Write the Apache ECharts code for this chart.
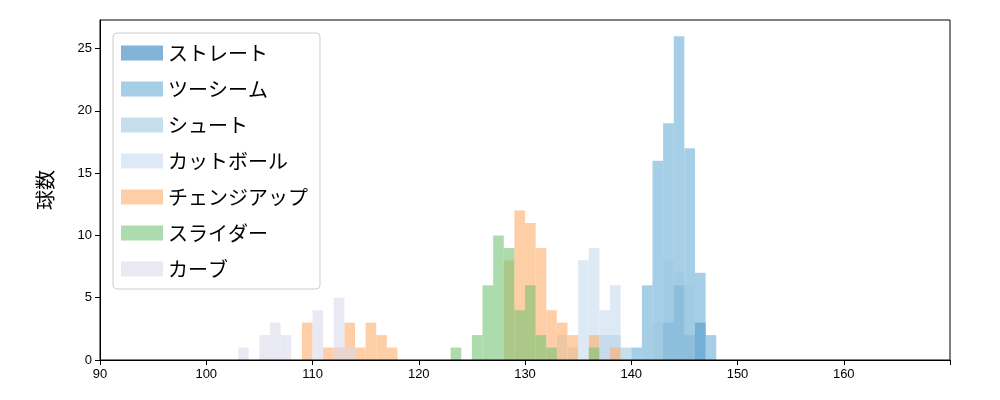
<!DOCTYPE html>
<html style="height:100%;width:100%;">
<head>
  <meta charset="utf-8">
  <script src="https://cdn.jsdelivr.net/npm/echarts@6/dist/echarts.min.js"></script>
</head>
<body style="margin:0px;height:100%;width:100%;">
  <div id="main" style="width:1000px;height:400px"></div>
  <script type="text/javascript">
    // 球種名
    var names = ['ストレート', 'ツーシーム', 'シュート', 'カットボール', 'チェンジアップ', 'スライダー', 'カーブ'];
    var colors = ['#3182bd', '#6baed6', '#9ecae1', '#c6dbef', '#fdae6b', '#74c476', '#dadaeb'];
    // 各ビンの左端 (幅1km/h) と球数
    var straightBins = [143, 144, 145, 146];
    var straightCounts = [3, 6, 2, 3];
    var twoSeamBins = [140, 141, 142, 143, 144, 145, 146, 147];
    var twoSeamCounts = [1, 6, 16, 19, 26, 17, 7, 2];
    var shootBins = [137, 138, 139, 142, 143, 144, 145];
    var shootCounts = [2, 2, 1, 3, 8, 7, 6];
    var cutBins = [133, 134, 135, 136, 137, 138];
    var cutCounts = [2, 1, 8, 9, 4, 6];
    var changeBins = [109, 111, 112, 113, 114, 115, 116, 117, 128, 129, 130, 131, 132, 133, 134, 136, 138];
    var changeCounts = [3, 1, 1, 3, 1, 3, 2, 1, 8, 12, 11, 9, 4, 3, 2, 2, 1];
    var sliderBins = [123, 125, 126, 127, 128, 129, 130, 131, 132, 136];
    var sliderCounts = [1, 2, 6, 10, 9, 4, 6, 2, 1, 1];
    var curveBins = [103, 105, 106, 107, 110, 112, 113];
    var curveCounts = [1, 2, 3, 2, 4, 5, 1];
    var binWidth = 1;

    var allBins = [straightBins, twoSeamBins, shootBins, cutBins, changeBins, sliderBins, curveBins];
    var allCounts = [straightCounts, twoSeamCounts, shootCounts, cutCounts, changeCounts, sliderCounts, curveCounts];

    function renderBar(params, api) {
      var p0 = api.coord([api.value(0), api.value(2)]);
      var p1 = api.coord([api.value(1), 0]);
      return {
        type: 'rect',
        shape: { x: p0[0], y: p0[1], width: p1[0] - p0[0], height: p1[1] - p0[1] },
        style: { fill: api.visual('color'), opacity: 0.6 }
      };
    }

    var series = names.map(function (n, i) {
      return {
        name: n,
        type: 'custom',
        renderItem: renderBar,
        itemStyle: { color: colors[i], opacity: 0.6 },
        encode: { x: [0, 1], y: 2 },
        data: allBins[i].map(function (b, j) { return [b, b + binWidth, allCounts[i][j]]; })
      };
    });

    var myChart = echarts.init(document.getElementById('main'));
    var option = {
      animation: false,
      grid: { left: 100, right: 50, top: 20, bottom: 40 },
      legend: {
        orient: 'vertical', left: 113, top: 33,
        itemWidth: 42, itemHeight: 15, itemGap: 16,
        padding: [10, 12, 10, 8],
        borderColor: '#cccccc', borderWidth: 1, borderRadius: 4,
        backgroundColor: 'rgba(255,255,255,0.8)',
        textStyle: { fontSize: 20, color: '#000', fontFamily: 'Noto Sans CJK JP' },
        data: names.map(function (n) { return { name: n, icon: 'rect' }; })
      },
      xAxis: {
        type: 'value', min: 90, max: 170, interval: 10,
        axisLine: { onZero: false, lineStyle: { color: '#000' } },
        axisTick: { lineStyle: { color: '#000' } },
        axisLabel: { color: '#000', fontSize: 13, formatter: function (v) { return v === 170 ? '' : v; } },
        splitLine: { show: false }
      },
      yAxis: {
        type: 'value', min: 0, max: 27.3, interval: 5,
        name: '球数', nameLocation: 'middle', nameGap: 45,
        nameTextStyle: { fontSize: 20, color: '#000', fontFamily: 'Noto Sans CJK JP' },
        axisLine: { show: true, lineStyle: { color: '#000' } },
        axisTick: { show: true, lineStyle: { color: '#000' } },
        axisLabel: { color: '#000', fontSize: 13, showMaxLabel: false },
        splitLine: { show: false }
      },
      series: series
    };
    myChart.setOption(option);
    // 枠線 (上と右)
    myChart.setOption({
      graphic: [{ type: 'rect', shape: { x: 100, y: 20, width: 850, height: 340 }, style: { fill: 'none', stroke: '#000', lineWidth: 1 }, silent: true, z: 10 }]
    });
  </script>
</body>
</html>
